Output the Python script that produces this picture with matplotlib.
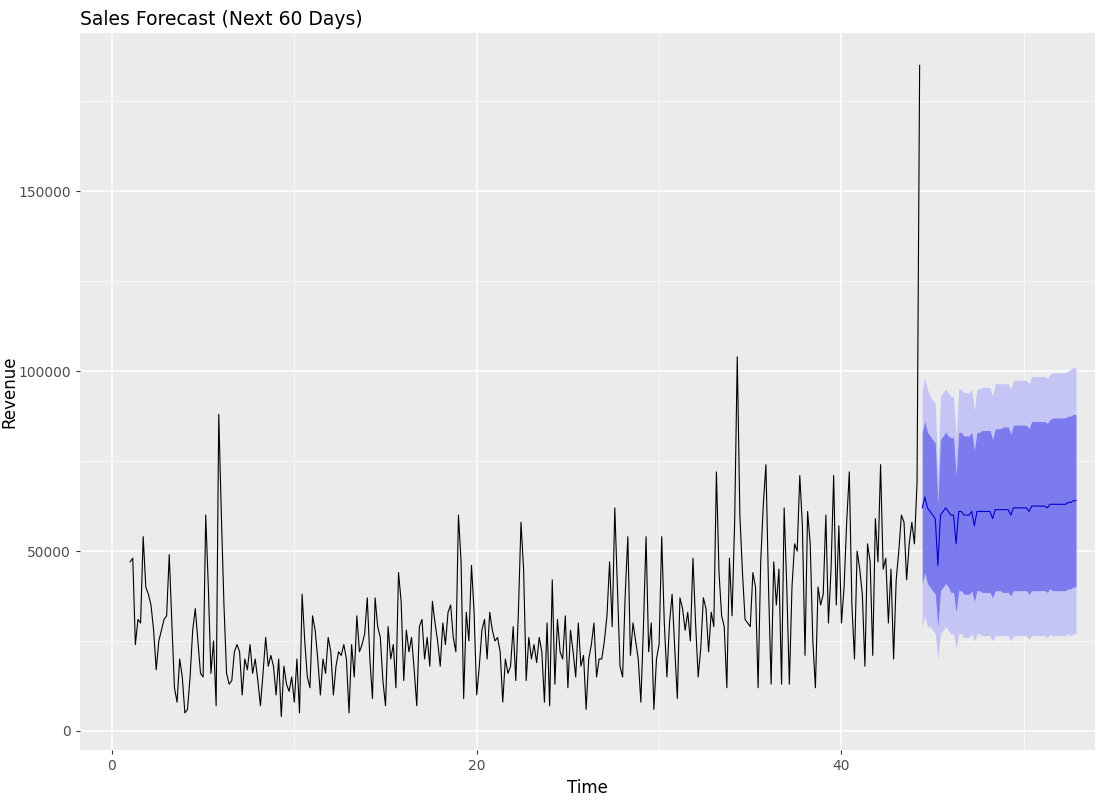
import numpy as np
import matplotlib.pyplot as plt

# daily revenue (thousands), weekly frequency starting at t=1
revenue_k = [
    47, 48, 24, 31, 30, 54, 40,
    38, 35, 28, 17, 25, 28, 31,
    32, 49, 30, 12, 8, 20, 15,
    5, 6, 15, 28, 34, 25, 16,
    15, 60, 40, 16, 25, 7, 88,
    60, 35, 16, 13, 14, 22, 24,
    22, 10, 20, 17, 24, 16, 20,
    14, 7, 16, 26, 18, 21, 18,
    10, 20, 4, 18, 13, 11, 15,
    8, 20, 5, 38, 25, 15, 12,
    32, 28, 20, 10, 20, 16, 26,
    22, 10, 18, 22, 21, 24, 20,
    5, 24, 15, 32, 22, 24, 27,
    37, 20, 9, 37, 29, 26, 14,
    7, 29, 20, 24, 12, 44, 36,
    14, 28, 22, 26, 17, 7, 29,
    31, 20, 26, 18, 36, 30, 25,
    18, 30, 24, 33, 35, 26, 22,
    60, 47, 9, 33, 25, 46, 33,
    10, 18, 28, 31, 20, 33, 28,
    25, 26, 22, 8, 20, 16, 18,
    29, 14, 33, 58, 45, 14, 26,
    20, 24, 19, 26, 22, 8, 30,
    7, 42, 13, 31, 22, 20, 32,
    12, 28, 22, 15, 30, 18, 21,
    6, 20, 24, 30, 15, 20, 20,
    25, 32, 47, 29, 62, 40, 18,
    15, 38, 54, 21, 30, 25, 20,
    8, 29, 54, 22, 30, 6, 20,
    24, 54, 30, 15, 30, 38, 23,
    9, 37, 34, 28, 33, 25, 48,
    30, 15, 23, 37, 34, 22, 33,
    29, 72, 44, 32, 29, 12, 48,
    32, 58, 104, 60, 44, 31, 30,
    29, 44, 40, 12, 47, 63, 74,
    40, 13, 47, 35, 45, 13, 62,
    40, 13, 40, 52, 50, 71, 57,
    21, 61, 52, 25, 12, 40, 35,
    38, 60, 30, 45, 71, 35, 57,
    30, 40, 58, 72, 35, 20, 50,
    45, 38, 18, 52, 47, 21, 59,
    47, 74, 45, 48, 30, 45, 20,
    42, 50, 60, 58, 42, 52, 58,
    52, 69, 185,
]

# 60-day forecast (thousands)
fc_mean = [62, 65, 62, 61, 60, 59, 46,
           60, 61, 62, 61, 60, 60, 52,
           61, 61, 60, 60, 60, 61, 57,
           61, 61, 61, 61, 61, 61, 59,
           61.5, 61.5, 61.5, 61.5, 61.5, 61.5, 60,
           62, 62, 62, 62, 62, 62, 61,
           62.5, 62.5, 62.5, 62.5, 62.5, 62.5, 62,
           63, 63, 63, 63, 63, 63, 63,
           63.5, 63.5, 64, 64]
fc_hw80 = [21, 21, 21, 21, 21, 21, 17,
           21, 21, 21, 21, 21.5, 21.5, 19,
           22, 22, 22, 22, 22, 22, 21,
           22, 22, 22.5, 22.5, 22.5, 22.5, 22,
           22.5, 22.5, 22.5, 23, 23, 23, 22.5,
           23, 23, 23, 23, 23, 23, 23,
           23.5, 23.5, 23.5, 23.5, 23.5, 23.5, 23.5,
           23.5, 24, 24, 24, 24, 24, 24,
           24, 24, 24, 24]
fc_hw95 = [33, 33, 33, 32, 32, 32, 26,
           33, 33, 33, 33, 33, 33, 29,
           34, 34, 34, 34, 34, 34, 32,
           34, 34, 34.5, 34.5, 34.5, 34.5, 34,
           35, 35, 35, 35, 35, 35, 35,
           35.5, 35.5, 35.5, 35.5, 35.5, 35.5, 35.5,
           36, 36, 36, 36, 36, 36, 36,
           36, 36.5, 36.5, 36.5, 36.5, 36.5, 36.5,
           36.5, 37, 37, 37]

y = np.array(revenue_k) * 1000
t = 1 + np.arange(len(y)) / 7
m = np.array(fc_mean) * 1000
h80 = np.array(fc_hw80) * 1000
h95 = np.array(fc_hw95) * 1000
tf = t[-1] + (1 + np.arange(len(m))) / 7

fig = plt.figure(figsize=(11, 7.99), dpi=100)
ax = fig.add_axes([80/1100, 49/799, 1015/1100, 717/799])
ax.set_facecolor('#EBEBEB')
ax.set_axisbelow(True)

ax.fill_between(tf, m - h95, m + h95, color='#C4C4F5', lw=0)
ax.fill_between(tf, m - h80, m + h80, color='#7B7BEE', lw=0)
ax.plot(t, y, color='black', lw=0.8)
ax.plot(tf, m, color='#0000CC', lw=0.8)

ax.set_xlim(-1.75, 53.9)
ax.set_ylim(-5300, 194000)
ax.set_xticks([0, 20, 40])
ax.set_xticks([10, 30, 50], minor=True)
ax.set_yticks([0, 50000, 100000, 150000])
ax.set_yticklabels(['0', '50000', '100000', '150000'])
ax.set_yticks([25000, 75000, 125000, 175000], minor=True)
ax.grid(which='major', color='white', lw=1.1)
ax.grid(which='minor', color='white', lw=0.5)
ax.tick_params(which='both', length=3, color='#333333', labelsize=10, labelcolor='#4D4D4D')
ax.tick_params(which='minor', length=0)
for s in ax.spines.values():
    s.set_visible(False)

ax.set_xlabel('Time', fontsize=12)
ax.set_ylabel('Revenue', fontsize=12)
ax.yaxis.set_label_coords(-62/1015, 0.5)
ax.set_title('Sales Forecast (Next 60 Days)', loc='left', fontsize=13.5)

fig.savefig('out.png')
